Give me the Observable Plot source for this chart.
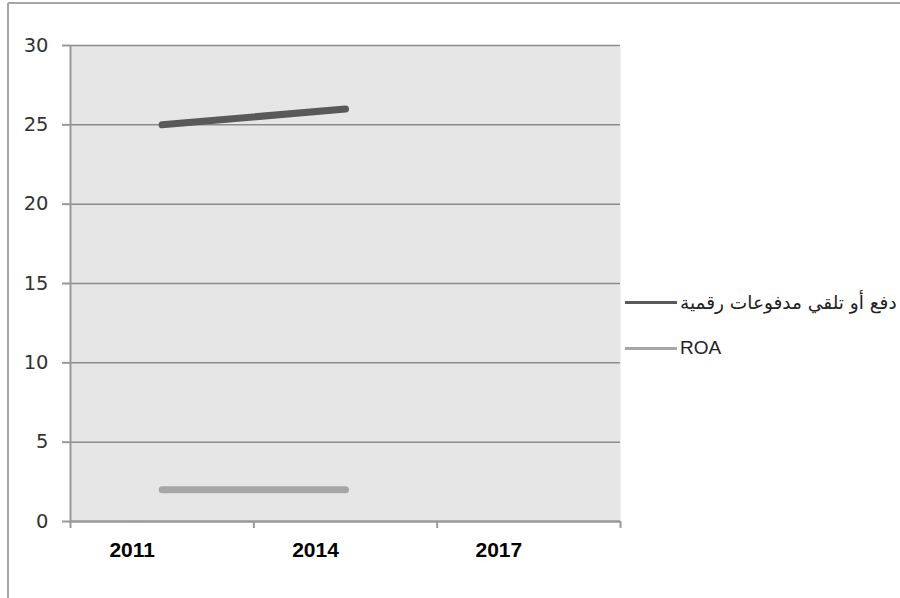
<!DOCTYPE html>
<html>
<head>
<meta charset="utf-8">
<script src="https://cdn.jsdelivr.net/npm/d3@7"></script>
<script src="https://cdn.jsdelivr.net/npm/@observablehq/plot@0.6"></script>
<style>
  html, body { margin: 0; padding: 0; background: #fff; }
  #chart { position: relative; width: 900px; height: 598px; overflow: hidden; }
  #chart svg { display: block; }
  .legend { position: absolute; left: 625px; top: 0; color: #222; white-space: nowrap; }
  .legend .row { position: absolute; left: 0; height: 24px; display: flex; align-items: center; }
  .legend .swatch { width: 52px; height: 3px; margin-right: 3px; flex: none; }
  .legend .name-ar { font-family: "DejaVu Sans", sans-serif; font-size: 18.5px; }
  .legend .name-lat { font-family: "Liberation Sans", Arial, sans-serif; font-size: 19px; }
</style>
</head>
<body>
<div id="chart"></div>
<script>
// Survey years (categories on the x axis)
const years = ["2011", "2014", "2017"];

// Series values per year (null = not reported)
const digitalPayments = [25, 26, null];
const roa = [2, 2, null];

// Series names and colours
const seriesNames = ["دفع أو تلقي مدفوعات رقمية", "ROA"];
const seriesColors = ["#595959", "#a6a6a6"];

// Y axis tick values
const yTicks = [0, 5, 10, 15, 20, 25, 30];

// Long-form table: each year sits at the middle of its category slot
const rows = [];
[digitalPayments, roa].forEach((values, s) => {
  values.forEach((v, i) => {
    if (v != null) rows.push({series: seriesNames[s], slot: i + 0.5, value: v});
  });
});
const slotCenters = years.map((_, i) => i + 0.5);
const slotEdges = d3.range(years.length + 1);

const plot = Plot.plot({
  width: 900,
  height: 598,
  marginLeft: 70,
  marginRight: 280,
  marginTop: 45,
  marginBottom: 77,
  style: {fontFamily: "'Liberation Sans', Arial, sans-serif", fontSize: "15px", color: "#222", background: "transparent"},
  x: {domain: [0, years.length]},
  y: {domain: [0, 30]},
  color: {domain: seriesNames, range: seriesColors},
  marks: [
    Plot.frame({fill: "#e6e6e6", stroke: null}),
    Plot.ruleY(yTicks.filter(d => d > 0), {stroke: "#8c8c8c", strokeWidth: 1.5}),
    // y axis: labels and short outward ticks
    Plot.axisY({ticks: yTicks, tickSize: 8, tickPadding: 14, tickFormat: d => String(d), stroke: "#999", strokeWidth: 2,
      fontFamily: "'DejaVu Sans', Verdana, sans-serif", fontSize: 19.5, fill: "#333", label: null}),
    // x axis tick marks on category boundaries
    Plot.axisX({ticks: slotEdges, tickSize: 7, tickFormat: () => "", stroke: "#999", strokeWidth: 2, label: null}),
    // x axis year labels, set slightly left of each slot centre
    Plot.axisX({ticks: slotCenters, tickSize: 0, tickPadding: 21, dx: -30, tickFormat: d => years[Math.round(d - 0.5)],
      fontWeight: "bold", fontSize: 21, fill: "#000", label: null}),
    Plot.ruleX([0], {stroke: "#999", strokeWidth: 2}),
    Plot.ruleY([0], {stroke: "#999", strokeWidth: 2.5}),
    Plot.line(rows, {x: "slot", y: "value", z: "series", stroke: "series", strokeWidth: 7, strokeLinecap: "round"})
  ]
});

const chart = document.getElementById("chart");
chart.appendChild(plot);

// Outer chart-area border (top and left edges)
const svg = d3.select(plot);
svg.append("line").attr("x1", 8).attr("x2", 900).attr("y1", 3).attr("y2", 3)
  .attr("stroke", "#a6a6a6").attr("stroke-width", 2);
svg.append("line").attr("x1", 8).attr("x2", 8).attr("y1", 3).attr("y2", 598)
  .attr("stroke", "#a6a6a6").attr("stroke-width", 2);

// Legend to the right of the plot
const legend = document.createElement("div");
legend.className = "legend";
chart.appendChild(legend);
const legendTops = [290, 336];
seriesNames.forEach((name, i) => {
  const row = document.createElement("div");
  row.className = "row";
  row.style.top = legendTops[i] + "px";
  const sw = document.createElement("span");
  sw.className = "swatch";
  sw.style.background = seriesColors[i];
  const label = document.createElement("span");
  label.textContent = name;
  label.dir = "auto";
  label.className = i === 0 ? "name-ar" : "name-lat";
  row.appendChild(sw);
  row.appendChild(label);
  legend.appendChild(row);
});
</script>
</body>
</html>
